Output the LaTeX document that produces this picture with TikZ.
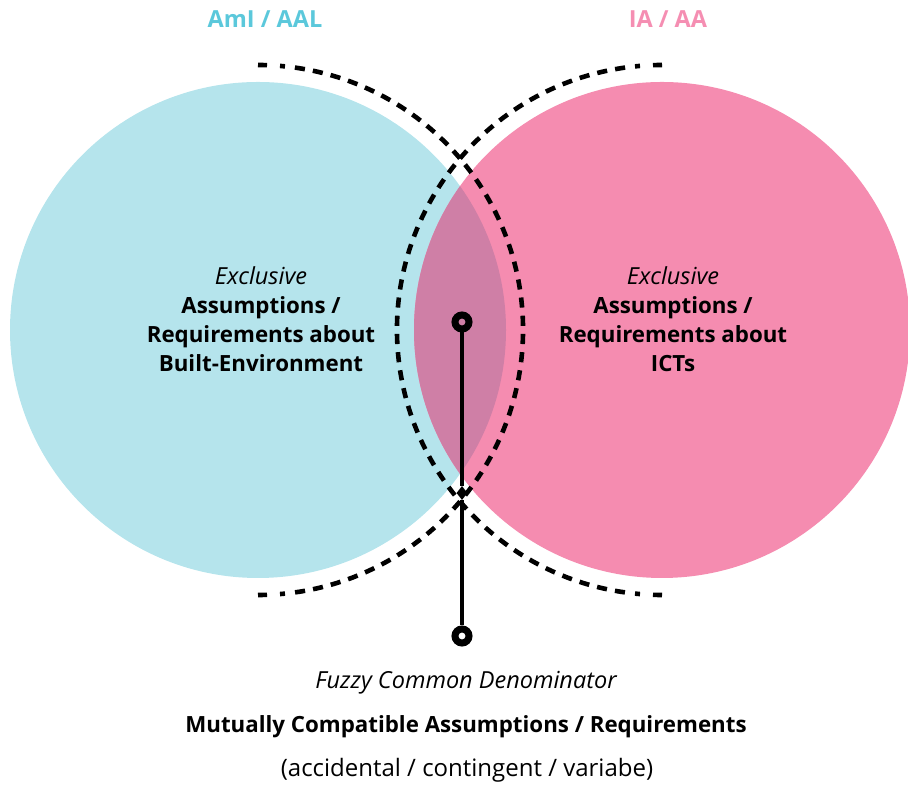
\documentclass[tikz,border=0pt]{standalone}
\usepackage{fontspec}
\setmainfont{Open Sans}
\usetikzlibrary{shapes.geometric}
\definecolor{cyanfill}{RGB}{181,228,236}
\definecolor{pinkfill}{RGB}{245,140,176}
\definecolor{lensfill}{RGB}{207,127,166}
\definecolor{cyantext}{RGB}{91,200,219}
\definecolor{pinktext}{RGB}{245,142,178}
\newcommand{\itsz}{\fontsize{23.5}{29}\selectfont\itshape}
\newcommand{\bfsz}{\fontsize{22.3}{29}\selectfont\bfseries}
\newcommand{\rmsz}{\fontsize{24}{29}\selectfont}
\begin{document}
\begin{tikzpicture}[x=1pt,y=1pt,
  dashline/.style={line width=4.6pt, dash pattern=on 10.14pt off 8.11pt},
  endline/.style={line width=4.6pt},
  ring/.style={circle, draw, line width=7pt, minimum size=14pt, inner sep=0pt},
  tip/.style={diamond, fill, minimum width=11pt, minimum height=14pt, inner sep=0pt},
  body/.style={align=center, font=\fontsize{22.3}{29}\selectfont},
  label/.style={inner sep=0pt}]
\useasboundingbox (0,0) rectangle (908,786);
\clip (0,0) rectangle (908,786);
\coordinate (C1) at (258,456);
\coordinate (C2) at (662,456);
% circles
\fill[cyanfill] (C1) circle[radius=248];
\fill[pinkfill] (C2) circle[radius=248];
\begin{scope}
  \clip (C1) circle[radius=248];
  \fill[lensfill] (C2) circle[radius=248];
\end{scope}
% dashed arcs, left
\draw[dashline] (C1) ++(82:265) arc[start angle=82, end angle=-82, radius=265];
\draw[endline] (C1) ++(90:265) arc[start angle=90, end angle=88.05, radius=265];
\draw[endline] (C1) ++(85.24:265) arc[start angle=85.24, end angle=84.15, radius=265];
\draw[endline] (C1) ++(-90:265) arc[start angle=-90, end angle=-88.05, radius=265];
\draw[endline] (C1) ++(-85.24:265) arc[start angle=-85.24, end angle=-84.15, radius=265];
% dashed arcs, right
\draw[dashline] (C2) ++(98:265) arc[start angle=98, end angle=262, radius=265];
\draw[endline] (C2) ++(90:265) arc[start angle=90, end angle=91.95, radius=265];
\draw[endline] (C2) ++(94.76:265) arc[start angle=94.76, end angle=95.85, radius=265];
\draw[endline] (C2) ++(270:265) arc[start angle=270, end angle=268.05, radius=265];
\draw[endline] (C2) ++(265.24:265) arc[start angle=265.24, end angle=264.15, radius=265];
% connector
\node[ring] (top) at (462,464) {};
\node[ring] (bot) at (462,150) {};
\node[tip] (mid) at (462,293) {};
\draw[line width=4pt] (top) -- (mid) -- (bot);
% titles
\node[label, text=cyantext, font=\fontsize{23.5}{28}\selectfont\bfseries] (tl) at (265,767) {AmI / AAL};
\node[label, text=pinktext, font=\fontsize{23.5}{28}\selectfont\bfseries] (tr) at (668,767) {IA / AA};
% circle texts
\node[body] (lt) at (261,467) {{\itsz Exclusive}\\ {\bfsz Assumptions /}\\ {\bfsz Requirements about}\\ {\bfsz Built-Environment}};
\node[body] (rt) at (673,467) {{\itsz Exclusive}\\ {\bfsz Assumptions /}\\ {\bfsz Requirements about}\\ {\bfsz ICTs}};
% bottom texts
\node[label, font=\itsz] (b1) at (466,103) {Fuzzy Common Denominator};
\node[label, font=\bfsz] (b2) at (466,59) {Mutually Compatible Assumptions / Requirements};
\node[label, font=\rmsz] (b3) at (467,16) {(accidental / contingent / variabe)};
\end{tikzpicture}
\end{document}
